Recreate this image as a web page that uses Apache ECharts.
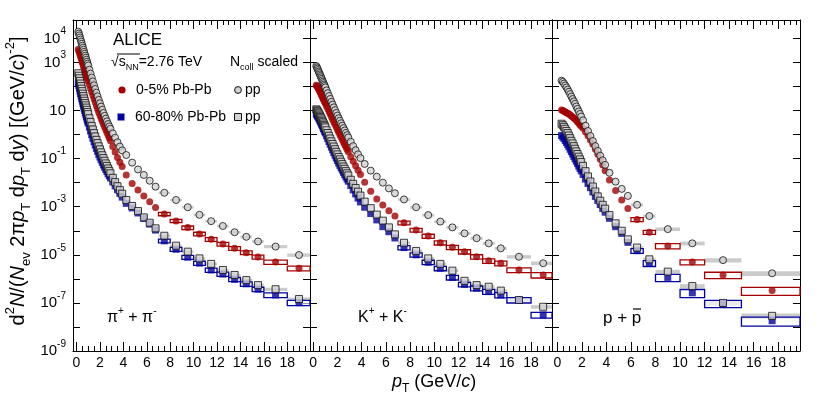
<!DOCTYPE html>
<html>
<head>
<meta charset="utf-8">
<script src="https://cdn.jsdelivr.net/npm/echarts@6/dist/echarts.min.js"></script>
<style>
html, body { margin: 0; padding: 0; background: #fff; }
#chart { width: 830px; height: 399px; }
</style>
</head>
<body>
<div id="chart"></div>
<script>
// ---- data ----
var xTickLabels = [0, 2, 4, 6, 8, 10, 12, 14, 16, 18];
var yTickExps = [4, 3, 1, -1, -3, -5, -7, -9];
var yMin = 1e-9, yMax = 5.8e4;

// pions
var piPt = [0.15,0.2,0.25,0.3,0.35,0.4,0.45,0.5,0.55,0.6,0.65,0.7,0.75,0.8,0.85,0.9,0.95,
    1.0,1.1,1.2,1.3,1.4,1.5,1.6,1.7,1.8,1.9,2.0,2.1,2.2,2.3,2.4,2.5,2.6,2.7,2.8,2.9,
    3.1,3.3,3.5,3.7,3.9,4.25,4.75,5.25,5.75,6.25,6.75,7.5,8.5,9.5,10.5,11.5,12.5,13.5,14.5,15.5,17,19];
var piPbPb05 = [3.55e3,2.99e3,2.51e3,2.09e3,1.74e3,1.45e3,1.2e3,1.0e3,832,692,575,479,398,335,282,237,200,
    166,117,83,59,42.2,30.2,21.9,15.8,11.6,8.5,6.3,4.68,3.55,2.69,2.07,1.58,1.22,0.93,0.716,0.55,
    0.32,0.19,0.112,0.071,0.047,2.09e-2,9.3e-3,4.9e-3,2.8e-3,1.62e-3,9.3e-4,
    5.0e-4,2.57e-4,1.35e-4,7.4e-5,4.4e-5,2.8e-5,1.86e-5,1.23e-5,8.1e-6,5.0e-6,2.75e-6];
var piPP05 = [1.9e4,1.58e4,1.32e4,1.08e4,8.9e3,7.3e3,6.0e3,4.95e3,4.1e3,3.35e3,2.75e3,2.29e3,1.9e3,1.57e3,1.29e3,1.07e3,890,
    741,500,343,234,162,112,78.5,55,38.9,27.5,20,14.5,10.7,7.9,6.0,4.6,3.55,2.75,2.19,1.74,
    1.12,0.74,0.48,0.316,0.22,0.141,0.068,0.0355,0.0209,0.012,6.8e-3,
    3.8e-3,1.9e-3,9.5e-4,4.6e-4,2.5e-4,1.58e-4,8.7e-5,5.6e-5,3.6e-5,2.2e-5,9.8e-6];
var piPbPb6080 = [141,108,83,64.6,50,39.4,30.9,24.5,19.5,15.7,12.6,10.1,8.1,6.6,5.4,4.4,3.63,
    2.99,2.04,1.41,0.977,0.70,0.5,0.367,0.269,0.202,0.151,0.116,0.089,0.07,0.055,0.0442,0.0355,0.0288,0.0234,0.0193,0.0158,
    0.0107,7.4e-3,5.1e-3,3.6e-3,2.5e-3,1.38e-3,8.9e-4,5.5e-4,3.24e-4,1.9e-4,1.07e-4,
    3.8e-5,1.7e-5,7.9e-6,4.5e-6,2.34e-6,1.58e-6,9.5e-7,6.2e-7,3.7e-7,2.14e-7,1.02e-7];
var piPP6080 = [355,279,219,170,132,104,81,63.8,50,39.8,31.6,25.4,20.4,16.4,13.2,10.7,8.7,
    7.08,4.79,3.31,2.29,1.62,1.15,0.832,0.603,0.442,0.324,0.243,0.182,0.138,0.105,0.0813,0.063,0.0495,0.0389,0.0309,0.0245,
    0.0158,0.0105,7.1e-3,4.9e-3,3.47e-3,1.9e-3,1.07e-3,6.6e-4,3.6e-4,2.16e-4,1.26e-4,
    6.2e-5,2.4e-5,1.35e-5,7.1e-6,4.2e-6,2.34e-6,1.45e-6,8.9e-7,5.5e-7,3.7e-7,1.45e-7];
var piBoxEdges = [7,8,9,10,11,12,13,14,15,16,18,20];
var piSysPbPb05 = [0.16,0.16,0.17,0.17,0.18,0.18,0.18,0.18,0.19,0.2,0.22];
var piSysPbPb6080 = [0.18,0.19,0.19,0.2,0.2,0.2,0.2,0.21,0.21,0.22,0.24];
var piSysPP05 = [0.12,0.12,0.12,0.13,0.13,0.13,0.14,0.14,0.14,0.15,0.16];
var piSysPP6080 = [0.12,0.12,0.13,0.13,0.13,0.14,0.14,0.14,0.15,0.15,0.16];

// kaons
var kaPt = [0.25,0.3,0.35,0.4,0.45,0.5,0.55,0.6,0.65,0.7,0.75,0.8,0.85,0.9,0.95,
    1.0,1.1,1.2,1.3,1.4,1.5,1.6,1.7,1.8,1.9,2.0,2.1,2.2,2.3,2.4,2.5,2.6,2.7,2.8,2.9,
    3.1,3.3,3.5,3.7,3.9,4.25,4.75,5.25,5.75,6.25,6.75,7.5,8.5,9.5,10.5,11.5,12.5,13.5,14.5,15.5,17,19];
var kaPbPb05 = [112,104,95.5,86,77.6,69.2,61.7,54.3,47.9,42.2,37.2,32.7,28.8,25.4,22.4,
    19.7,15.1,11.7,9.12,7.08,5.5,4.27,3.31,2.6,2.04,1.6,1.26,0.989,0.776,0.61,0.479,0.38,0.302,0.24,0.191,
    0.12,0.078,0.05,0.033,0.0219,0.0105,4.37e-3,2.09e-3,1.17e-3,6.8e-4,4.1e-4,
    2.14e-4,1.07e-4,6.0e-5,3.16e-5,2.04e-5,1.35e-5,8.3e-6,5.6e-6,4.47e-6,2.34e-6,1.45e-6];
var kaPP05 = [708,624,550,479,417,363,316,275,240,209,182,158,138,120,105,
    91,69,52.5,39.8,30.2,22.9,17.6,13.5,10.4,7.94,6.17,4.79,3.76,2.95,2.34,1.86,1.48,1.17,0.944,0.759,
    0.5,0.33,0.224,0.151,0.105,0.06,0.0316,0.0178,0.01,5.75e-3,3.63e-3,
    2.0e-3,9.5e-4,4.47e-4,2.4e-4,1.38e-4,7.8e-5,4.9e-5,3.0e-5,1.86e-5,8.3e-6,4.47e-6];
var kaPbPb6080 = [7.24,6.61,6.03,5.43,4.9,4.37,3.89,3.43,3.02,2.66,2.34,2.04,1.78,1.55,1.35,
    1.17,0.891,0.676,0.513,0.394,0.302,0.232,0.178,0.138,0.107,0.0841,0.0661,0.0525,0.0417,0.0335,0.0269,0.0216,0.0174,0.0141,0.0115,
    7.6e-3,5.0e-3,3.4e-3,2.29e-3,1.58e-3,9.5e-4,5.2e-4,2.82e-4,1.48e-4,9.1e-5,5.0e-5,
    2.0e-5,1.0e-5,4.9e-6,2.75e-6,1.15e-6,5.9e-7,4.1e-7,2.95e-7,2.14e-7,1.32e-7,3.16e-8];
var kaPP6080 = [11.2,10.2,9.33,8.41,7.59,6.76,6.03,5.37,4.79,4.22,3.72,3.27,2.88,2.54,2.24,
    1.97,1.51,1.16,0.891,0.684,0.525,0.407,0.316,0.245,0.191,0.15,0.117,0.0933,0.0741,0.0589,0.0468,0.0376,0.0302,0.0245,0.02,
    0.0132,8.9e-3,6.0e-3,4.2e-3,2.9e-3,1.62e-3,8.7e-4,4.7e-4,2.63e-4,1.38e-4,7.1e-5,
    3.16e-5,1.45e-5,7.1e-6,4.2e-6,2.19e-6,8.3e-7,5.5e-7,4.7e-7,3.24e-7,1.32e-7,6.9e-8];
var kaBoxEdges = [7,8,9,10,11,12,13,14,15,16,18,20];
var kaSysPbPb05 = [0.18,0.18,0.19,0.19,0.2,0.2,0.21,0.21,0.22,0.23,0.25];
var kaSysPbPb6080 = [0.2,0.2,0.21,0.21,0.22,0.22,0.23,0.23,0.24,0.25,0.27];
var kaSysPP05 = [0.13,0.13,0.13,0.14,0.14,0.14,0.15,0.15,0.15,0.16,0.17];
var kaSysPP6080 = [0.13,0.13,0.14,0.14,0.14,0.15,0.15,0.15,0.16,0.16,0.17];

// protons
var prPt = [0.35,0.45,0.55,0.65,0.75,0.85,0.95,1.05,1.15,1.25,1.35,1.45,1.55,1.65,1.75,1.85,1.95,
    2.1,2.3,2.5,2.7,2.9,3.1,3.3,3.5,3.7,3.9,4.25,4.75,5.25,5.75,6.5,7.5,9,11,13.5,17.5];
var prPbPb05 = [10.5,10,9.3,8.7,8.1,7.6,7.1,6.5,5.9,5.4,4.9,4.4,3.9,3.4,2.95,2.57,2.24,
    1.82,1.29,0.89,0.6,0.4,0.245,0.151,0.093,0.054,0.0316,0.0129,4.7e-3,1.9e-3,8.5e-4,
    2.95e-4,8.7e-5,2.34e-5,5.0e-6,1.45e-6,3.24e-7];
var prPP05 = [174,155,132,110,91,74,60,48,38,30,24,19.1,14.8,11.7,9.1,7.2,5.6,
    3.9,2.34,1.41,0.87,0.54,0.33,0.209,0.132,0.085,0.055,0.0257,0.011,5.5e-3,2.82e-3,
    1.2e-3,4.1e-4,1.17e-4,3.0e-5,6.0e-6,1.7e-6];
var prPbPb6080 = [0.91,0.79,0.68,0.56,0.47,0.38,0.31,0.245,0.195,0.155,0.123,0.098,0.078,0.062,0.049,0.039,0.031,
    0.0219,0.0141,9.3e-3,6.2e-3,4.1e-3,2.69e-3,1.82e-3,1.23e-3,8.5e-4,5.9e-4,3.3e-4,1.48e-4,7.8e-5,3.3e-5,
    1.48e-5,4.47e-6,1.15e-6,2.63e-7,9.5e-8,1.82e-8];
var prPP6080 = [2.82,2.45,2.09,1.74,1.41,1.15,0.91,0.71,0.55,0.43,0.33,0.257,0.2,0.155,0.12,0.093,0.072,
    0.05,0.03,0.0182,0.0112,6.9e-3,4.3e-3,2.69e-3,1.78e-3,1.2e-3,8.3e-4,4.47e-4,2.04e-4,1.0e-4,4.4e-5,
    2.0e-5,6.5e-6,2.0e-6,5.0e-7,1.0e-7,2.9e-8];
var prBoxEdges = [6,7,8,10,12,15,20];
var prSysPbPb05 = [0.19,0.19,0.24,0.24,0.3,0.36];
var prSysPbPb6080 = [0.23,0.27,0.33,0.37,0.33,0.4];
var prSysPP05 = [0.14,0.15,0.17,0.18,0.2,0.22];
var prSysPP6080 = [0.15,0.16,0.18,0.2,0.24,0.26];

// ---- styles / layout ----
var FONT = '"Liberation Sans", Arial, Helvetica, sans-serif';
var RED = '#a50000';
var BLUE = '#0000a0';
var PPFILL = '#d2d2d2';
var BAND = '#cbcbcb';
var TOP = 20, HEIGHT = 331;
var panels = [
    {left: 73, width: 237, xmin: -0.3, xmax: 19.94},
    {left: 310, width: 242, xmin: -0.27, xmax: 19.73},
    {left: 552, width: 248, xmin: -0.43, xmax: 19.77}
];
var yTopExp = Math.log10(yMax);

function pairs(pt, val) {
    return pt.map(function (x, k) { return [x, val[k]]; });
}

// box = [binLo, binHi, yLo, yHi] for the last points of a series
function boxes(edges, val, sys) {
    var n = edges.length - 1, off = val.length - n, out = [];
    for (var k = 0; k < n; k++) {
        var v = val[off + k];
        out.push([edges[k], edges[k + 1], v * (1 - sys[k]), v * (1 + sys[k])]);
    }
    return out;
}

function xAxisOf(i, pos) {
    var p = panels[i];
    return {
        type: 'value', gridIndex: i, position: pos,
        min: p.xmin, max: p.xmax,
        splitNumber: 10, minInterval: 2, maxInterval: 2,
        axisLine: {show: true, onZero: false, lineStyle: {color: '#000', width: 1}},
        axisTick: {show: true, inside: true, length: 9, lineStyle: {color: '#000', width: 1}},
        minorTick: {show: true, splitNumber: 4, length: 5, lineStyle: {color: '#000', width: 1}},
        splitLine: {show: false},
        axisLabel: pos === 'bottom' ? {
            show: true, color: '#000', fontSize: 14, fontFamily: FONT, margin: 5,
            showMinLabel: false, showMaxLabel: false,
            formatter: function (v) {
                var r = Math.round(v * 1000) / 1000;
                return xTickLabels.indexOf(r) >= 0 ? String(r) : '';
            }
        } : {show: false}
    };
}

function expAxisOf(i, pos, withLabels) {
    return {
        type: 'value', gridIndex: i, position: pos,
        min: -9, max: yTopExp, interval: 1,
        axisLine: {show: true, onZero: false, lineStyle: {color: '#000', width: 1}},
        axisTick: {show: true, inside: true, length: 7, lineStyle: {color: '#000', width: 1}},
        splitLine: {show: false},
        axisLabel: withLabels ? {
            show: true, margin: 7, color: '#000',
            formatter: function (v) {
                var e = Math.round(v);
                if (Math.abs(v - e) > 1e-6 || yTickExps.indexOf(e) < 0) return '';
                return e === 1 ? '{b|10}' : '{b|10}{s|' + e + '}';
            },
            rich: {
                b: {fontSize: 15, fontFamily: FONT, color: '#000', lineHeight: 24},
                s: {fontSize: 10, fontFamily: FONT, color: '#000', verticalAlign: 'top'}
            }
        } : {show: false}
    };
}

var grids = [], xAxes = [], yAxes = [], series = [];
panels.forEach(function (p, i) {
    grids.push({left: p.left, top: TOP, width: p.width, height: HEIGHT, containLabel: false});
    xAxes[i] = xAxisOf(i, 'bottom');
    xAxes[i + 3] = xAxisOf(i, 'top');
    // data axis, log scale (hidden); ticks come from the exponent axes
    yAxes[i] = {type: 'log', logBase: 10, gridIndex: i, min: yMin, max: yMax, show: false};
    yAxes[i + 3] = expAxisOf(i, 'left', i === 0);
    yAxes[i + 6] = expAxisOf(i, 'right', false);
});

function boxSeries(i, data, style, z) {
    return {
        type: 'custom', xAxisIndex: i, yAxisIndex: i, z: z, silent: true,
        data: data,
        renderItem: function (params, api) {
            var a = api.coord([api.value(0), api.value(3)]);
            var b = api.coord([api.value(1), api.value(2)]);
            var cs = params.coordSys;
            var x0 = Math.max(a[0], cs.x), x1 = Math.min(b[0], cs.x + cs.width);
            return {type: 'rect', shape: {x: x0, y: a[1], width: x1 - x0, height: b[1] - a[1]}, style: style};
        }
    };
}

function markerSeries(i, data, kind, z) {
    var s = {type: 'scatter', xAxisIndex: i, yAxisIndex: i, z: z, silent: true, data: data, symbolSize: 7};
    if (kind === 'red') { s.symbol = 'circle'; s.itemStyle = {color: RED}; }
    if (kind === 'blue') { s.symbol = 'rect'; s.itemStyle = {color: BLUE}; }
    if (kind === 'ppc') { s.symbol = 'circle'; s.itemStyle = {color: PPFILL, borderColor: '#111', borderWidth: 1}; }
    if (kind === 'pps') { s.symbol = 'rect'; s.itemStyle = {color: PPFILL, borderColor: '#111', borderWidth: 1}; }
    return s;
}

var sets = [
    {pt: piPt, edges: piBoxEdges, pb05: piPbPb05, pp05: piPP05, pb6080: piPbPb6080, pp6080: piPP6080,
     s05: piSysPbPb05, s6080: piSysPbPb6080, sp05: piSysPP05, sp6080: piSysPP6080},
    {pt: kaPt, edges: kaBoxEdges, pb05: kaPbPb05, pp05: kaPP05, pb6080: kaPbPb6080, pp6080: kaPP6080,
     s05: kaSysPbPb05, s6080: kaSysPbPb6080, sp05: kaSysPP05, sp6080: kaSysPP6080},
    {pt: prPt, edges: prBoxEdges, pb05: prPbPb05, pp05: prPP05, pb6080: prPbPb6080, pp6080: prPP6080,
     s05: prSysPbPb05, s6080: prSysPbPb6080, sp05: prSysPP05, sp6080: prSysPP6080}
];

sets.forEach(function (d, i) {
    series.push(boxSeries(i, boxes(d.edges, d.pp05, d.sp05), {fill: BAND}, 1));
    series.push(boxSeries(i, boxes(d.edges, d.pp6080, d.sp6080), {fill: BAND}, 1));
    series.push(boxSeries(i, boxes(d.edges, d.pb05, d.s05), {fill: 'rgba(255,255,255,0.6)', stroke: RED, lineWidth: 1.3}, 2));
    series.push(boxSeries(i, boxes(d.edges, d.pb6080, d.s6080), {fill: 'rgba(255,255,255,0.6)', stroke: BLUE, lineWidth: 1.3}, 2));
    series.push(markerSeries(i, pairs(d.pt, d.pb05), 'red', 3));
    series.push(markerSeries(i, pairs(d.pt, d.pb6080), 'blue', 3));
    series.push(markerSeries(i, pairs(d.pt, d.pp05), 'ppc', 4));
    series.push(markerSeries(i, pairs(d.pt, d.pp6080), 'pps', 4));
});

function txt(x, y, text, size, rich, extra) {
    var r = {};
    Object.keys(rich || {}).forEach(function (k) {
        r[k] = Object.assign({fontFamily: FONT, fill: '#000'}, rich[k]);
        if (!r[k].fontSize) r[k].fontSize = size;
    });
    var el = {
        type: 'text', x: x, y: y, z: 100, silent: true,
        style: {
            text: text, fill: '#000', fontSize: size, fontFamily: FONT,
            align: 'left', verticalAlign: 'middle', lineHeight: Math.round(size * 1.45), rich: r
        }
    };
    if (extra) Object.assign(el, extra);
    return el;
}

var graphics = [
    txt(113, 40, 'ALICE', 17),
    txt(111, 62, '√s{sub|NN}=2.76 TeV', 14, {sub: {fontSize: 9, verticalAlign: 'bottom'}}),
    {type: 'line', z: 100, silent: true, shape: {x1: 117, y1: 54, x2: 140, y2: 54}, style: {stroke: '#000', lineWidth: 1}},
    txt(230, 62, 'N{sub|coll} scaled', 14, {sub: {fontSize: 9, verticalAlign: 'bottom'}}),
    {type: 'circle', z: 100, silent: true, shape: {cx: 122, cy: 90, r: 3.6}, style: {fill: RED}},
    txt(136, 90, '0-5% Pb-Pb', 14),
    {type: 'circle', z: 100, silent: true, shape: {cx: 238, cy: 90, r: 3.4}, style: {fill: PPFILL, stroke: '#111', lineWidth: 1}},
    txt(245, 90, 'pp', 14),
    {type: 'rect', z: 100, silent: true, shape: {x: 117.5, y: 113.5, width: 7, height: 7}, style: {fill: BLUE}},
    txt(135, 117, '60-80% Pb-Pb', 14),
    {type: 'rect', z: 100, silent: true, shape: {x: 234.5, y: 113.5, width: 7, height: 7}, style: {fill: PPFILL, stroke: '#111', lineWidth: 1}},
    txt(245, 117, 'pp', 14),
    txt(107, 318, 'π{sup|+} + π{sup|-}', 16, {sup: {fontSize: 10, verticalAlign: 'top'}}),
    txt(358, 318, 'K{sup|+} + K{sup|-}', 16, {sup: {fontSize: 10, verticalAlign: 'top'}}),
    txt(603, 318, 'p + p', 17),
    {type: 'line', z: 100, silent: true, shape: {x1: 633, y1: 309, x2: 641, y2: 309}, style: {stroke: '#000', lineWidth: 1.2}},
    txt(392, 382, '{i|p}{sub|T} (GeV/{i|c})', 18, {i: {fontStyle: 'italic'}, sub: {fontSize: 12, verticalAlign: 'bottom'}}),
    txt(18, 181, 'd{sup|2}{i|N}/({i|N}{sub|ev} 2π{i|p}{sub|T} d{i|p}{sub|T} d{i|y}) [(GeV/{i|c}){sup|-2}]', 20,
        {i: {fontStyle: 'italic'}, sub: {fontSize: 13, verticalAlign: 'bottom'}, sup: {fontSize: 13, verticalAlign: 'top'}},
        {rotation: Math.PI / 2})
];
graphics[graphics.length - 1].style.align = 'center';

var myChart = echarts.init(document.getElementById('chart'));
var option = {
    animation: false,
    backgroundColor: '#fff',
    textStyle: {fontFamily: FONT},
    grid: grids,
    xAxis: xAxes,
    yAxis: yAxes,
    series: series,
    graphic: graphics
};
myChart.setOption(option);
</script>
</body>
</html>
